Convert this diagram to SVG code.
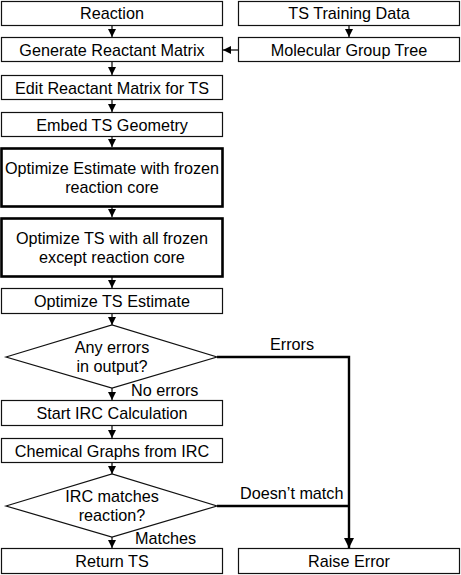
<svg xmlns="http://www.w3.org/2000/svg" width="461" height="575" viewBox="0 0 461 575">
<style>
  .box { fill: #fff; stroke: #111; stroke-width: 1.2; }
  .thick { fill: #fff; stroke: #000; stroke-width: 2.6; }
  .t { font-family: "Liberation Sans", Arial, sans-serif; font-size: 16.2px; fill: #000; text-anchor: middle; }
  .lbl { font-family: "Liberation Sans", Arial, sans-serif; font-size: 16.2px; fill: #000; }
  .c { fill: none; stroke: #000; stroke-width: 1.2; }
  .ct { fill: none; stroke: #000; stroke-width: 2.4; }
</style>
<defs>
  <marker id="ah" markerUnits="userSpaceOnUse" markerWidth="9" markerHeight="9" refX="8" refY="4" orient="auto">
    <path d="M0,0 L8,4 L0,8 z" fill="#000"/>
  </marker>
  <marker id="ahb" markerUnits="userSpaceOnUse" markerWidth="11" markerHeight="11" refX="10" refY="5" orient="auto">
    <path d="M0,0 L10,5 L0,10 z" fill="#000"/>
  </marker>
</defs>
<rect width="461" height="575" fill="#fff"/>
<g id="connectors">
  <line class="c" x1="112" y1="25" x2="112" y2="37" marker-end="url(#ah)"/>
  <line class="c" x1="349" y1="25" x2="349" y2="37" marker-end="url(#ah)"/>
  <line class="c" x1="238" y1="50" x2="223" y2="50" stroke-width="2" marker-end="url(#ah)"/>
  <line class="c" x1="112" y1="62" x2="112" y2="75" marker-end="url(#ah)"/>
  <line class="c" x1="112" y1="100" x2="112" y2="112" marker-end="url(#ah)"/>
  <line class="c" x1="112" y1="137" x2="112" y2="147" marker-end="url(#ah)"/>
  <line class="c" x1="112" y1="207" x2="112" y2="217" marker-end="url(#ah)"/>
  <line class="c" x1="112" y1="277" x2="112" y2="288" marker-end="url(#ah)"/>
  <line class="c" x1="112" y1="314" x2="112" y2="325" marker-end="url(#ah)"/>
  <line class="c" x1="112" y1="388" x2="112" y2="400" marker-end="url(#ah)"/>
  <line class="c" x1="112" y1="426" x2="112" y2="438" marker-end="url(#ah)"/>
  <line class="c" x1="112" y1="463" x2="112" y2="474" marker-end="url(#ah)"/>
  <line class="c" x1="112" y1="537" x2="112" y2="548" marker-end="url(#ah)"/>
  <polyline class="ct" points="217,357 349,357 349,548" marker-end="url(#ahb)"/>
  <line class="ct" x1="217" y1="506" x2="349" y2="506"/>
  <text class="lbl" x="270" y="350">Errors</text>
  <text class="lbl" x="131" y="396">No errors</text>
  <text class="lbl" x="240" y="499">Doesn’t match</text>
  <text class="lbl" x="135" y="544">Matches</text>
</g>
<g id="reaction"><rect class="box" x="1.5" y="1.5" width="221" height="24"/><text class="t" x="112" y="19">Reaction</text></g>
<g id="ts-training"><rect class="box" x="238.5" y="1.5" width="221" height="24"/><text class="t" x="349" y="19">TS Training Data</text></g>
<g id="generate"><rect class="box" x="1.5" y="37.5" width="221" height="24"/><text class="t" x="112" y="55.5">Generate Reactant Matrix</text></g>
<g id="molecular"><rect class="box" x="238.5" y="37.5" width="221" height="24"/><text class="t" x="349" y="55.5">Molecular Group Tree</text></g>
<g id="edit"><rect class="box" x="1.5" y="75.5" width="221" height="24"/><text class="t" x="112" y="93.5">Edit Reactant Matrix for TS</text></g>
<g id="embed"><rect class="box" x="1.5" y="112.5" width="221" height="24"/><text class="t" x="112" y="130.5">Embed TS Geometry</text></g>
<g id="opt-estimate"><rect class="thick" x="1.5" y="148.5" width="221" height="58"/><text class="t" x="112" y="174">Optimize Estimate with frozen</text><text class="t" x="112" y="193">reaction core</text></g>
<g id="opt-ts-frozen"><rect class="thick" x="1.5" y="218.5" width="221" height="58"/><text class="t" x="112" y="244">Optimize TS with all frozen</text><text class="t" x="112" y="263">except reaction core</text></g>
<g id="opt-ts-est"><rect class="box" x="1.5" y="288.5" width="221" height="25"/><text class="t" x="112" y="307">Optimize TS Estimate</text></g>
<g id="any-errors"><polygon class="box" points="6,357 112,325 217,357 112,388"/><text class="t" x="112" y="353">Any errors</text><text class="t" x="112" y="372">in output?</text></g>
<g id="start-irc"><rect class="box" x="1.5" y="400.5" width="221" height="25"/><text class="t" x="112" y="419">Start IRC Calculation</text></g>
<g id="chem-graphs"><rect class="box" x="1.5" y="438.5" width="221" height="24"/><text class="t" x="112" y="456.5">Chemical Graphs from IRC</text></g>
<g id="irc-matches"><polygon class="box" points="6,506 112,474 217,506 112,537"/><text class="t" x="112" y="502">IRC matches</text><text class="t" x="112" y="521">reaction?</text></g>
<g id="return-ts"><rect class="box" x="1.5" y="548.5" width="221" height="25"/><text class="t" x="112" y="567">Return TS</text></g>
<g id="raise-error"><rect class="box" x="238.5" y="548.5" width="221" height="25"/><text class="t" x="349" y="567">Raise Error</text></g>
</svg>
